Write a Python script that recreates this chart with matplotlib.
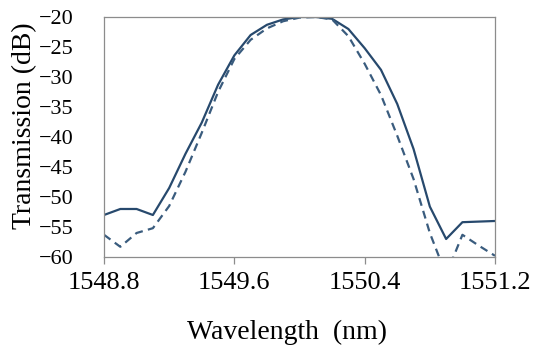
import matplotlib
matplotlib.use("Agg")
import matplotlib.pyplot as plt

# wavelength samples (nm) and the two measured transmission curves (dB)
wavelength = [1548.8, 1548.9, 1549.0, 1549.1, 1549.2, 1549.3, 1549.4, 1549.5,
              1549.6, 1549.7, 1549.8, 1549.9, 1550.0, 1550.1, 1550.2, 1550.3,
              1550.4, 1550.5, 1550.6, 1550.7, 1550.8, 1550.9, 1551.0, 1551.1,
              1551.2]
solid_db = [-53.0, -52.0, -52.0, -53.0, -48.5, -42.8, -37.6, -31.3,
            -26.4, -23.0, -21.3, -20.4, -20.0, -20.0, -20.3, -22.0,
            -25.2, -28.8, -34.5, -42.0, -51.6, -57.0, -54.2, -54.1,
            -54.0]
dashed_db = [-56.3, -58.3, -56.0, -55.2, -51.5, -45.8, -39.3, -32.5,
             -27.0, -23.8, -21.9, -20.7, -20.1, -20.0, -20.4, -23.2,
             -27.8, -33.0, -39.8, -47.0, -56.0, -63.0, -56.3, -58.1,
             -59.8]
xticks = [1548.8, 1549.6, 1550.4, 1551.2]
yticks = [-60, -55, -50, -45, -40, -35, -30, -25, -20]

plt.rcParams['font.family'] = ['Liberation Serif', 'DejaVu Serif']

fig = plt.figure(figsize=(5.37, 3.47), dpi=100)
ax = fig.add_axes([0.1937, 0.2594, 0.7281, 0.6916])

ax.plot(wavelength, solid_db, color='#27496d', linewidth=1.6)
ax.plot(wavelength, dashed_db, color='#3a5c7e', linewidth=1.6,
        linestyle=(0, (3.6, 2.4)))

ax.set_xlim(1548.8, 1551.2)
ax.set_ylim(-60, -20)
ax.set_xticks(xticks)
ax.set_xticklabels([f"{t:.1f}" for t in xticks])
ax.set_yticks(yticks)

for s in ax.spines.values():
    s.set_color('#8c8c8c')
    s.set_linewidth(0.9)

ax.tick_params(axis='x', direction='out', length=5, width=0.9,
               color='#8c8c8c', labelsize=19, pad=6)
ax.tick_params(axis='y', length=0, labelsize=16, pad=22)

ax.set_xlabel('Wavelength  (nm)', fontsize=20)
ax.set_ylabel('Transmission (dB)', fontsize=20)
ax.xaxis.set_label_coords(0.467, -0.262)
ax.yaxis.set_label_coords(-0.17, 0.546)

fig.savefig('out.png', dpi=100)
